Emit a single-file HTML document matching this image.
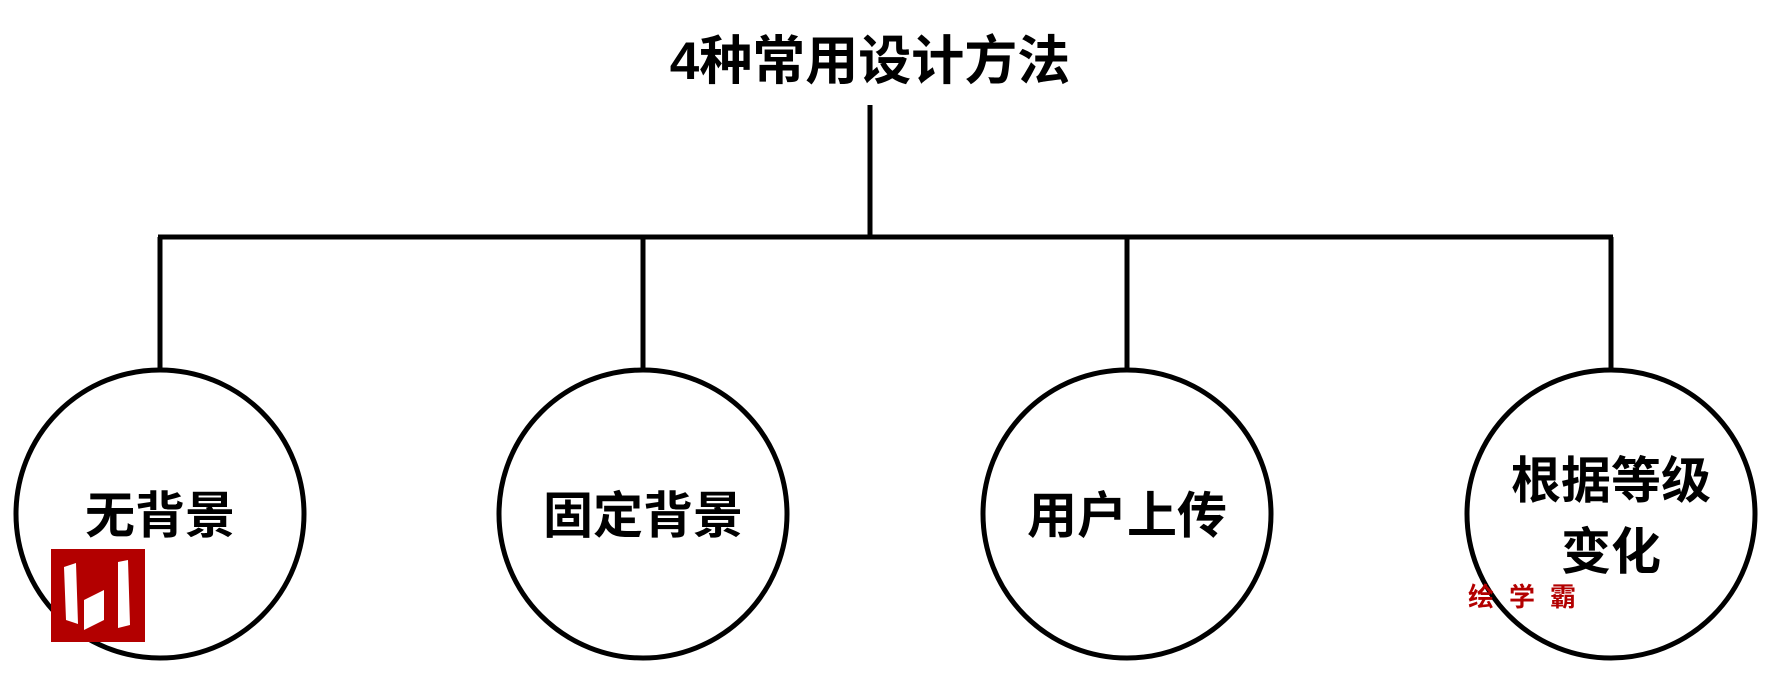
<!DOCTYPE html>
<html><head><meta charset="utf-8"><style>
html,body{margin:0;padding:0;background:#fff;}
body{width:1776px;height:678px;position:relative;overflow:hidden;font-family:"Liberation Sans","Noto Sans CJK SC",sans-serif;}
.t{position:absolute;font-weight:bold;color:#000;text-align:center;white-space:nowrap;}
</style></head><body>
<svg width="1776" height="678" style="position:absolute;left:0;top:0">
<g stroke="#000" stroke-width="5" fill="none">
<line x1="870" y1="105" x2="870" y2="237"/>
<line x1="158" y1="237" x2="1613" y2="237"/>
<line x1="160" y1="237" x2="160" y2="370"/>
<line x1="643" y1="237" x2="643" y2="370"/>
<line x1="1127" y1="237" x2="1127" y2="370"/>
<line x1="1611" y1="237" x2="1611" y2="370"/>
<circle cx="160" cy="514" r="144"/>
<circle cx="643" cy="514" r="144"/>
<circle cx="1127" cy="514" r="144"/>
<circle cx="1611" cy="514" r="144"/>
</g>
<rect x="51" y="549" width="94" height="93" fill="#b30000"/>
<path d="M64 567 L76 563 L78 624 L66 620 Z M84 600 L104 590 L104 620 L84 630 Z M118 562 L128 560 L130 625 L118 628 Z" fill="#fff"/>
</svg>
<div class="t" style="left:470px;top:30px;width:800px;font-size:53px;line-height:64px;">4种常用设计方法</div>
<div class="t" style="left:0;top:485px;width:320px;font-size:50px;line-height:62px;">无背景</div>
<div class="t" style="left:483px;top:485px;width:320px;font-size:50px;line-height:62px;">固定背景</div>
<div class="t" style="left:967px;top:485px;width:320px;font-size:50px;line-height:62px;">用户上传</div>
<div class="t" style="left:1451px;top:446px;width:320px;font-size:50px;line-height:71px;">根据等级<br>变化</div>
<div class="t" style="left:1468px;top:581px;font-size:26px;line-height:32px;color:#b30000;letter-spacing:15px;">绘学霸</div>
</body></html>
